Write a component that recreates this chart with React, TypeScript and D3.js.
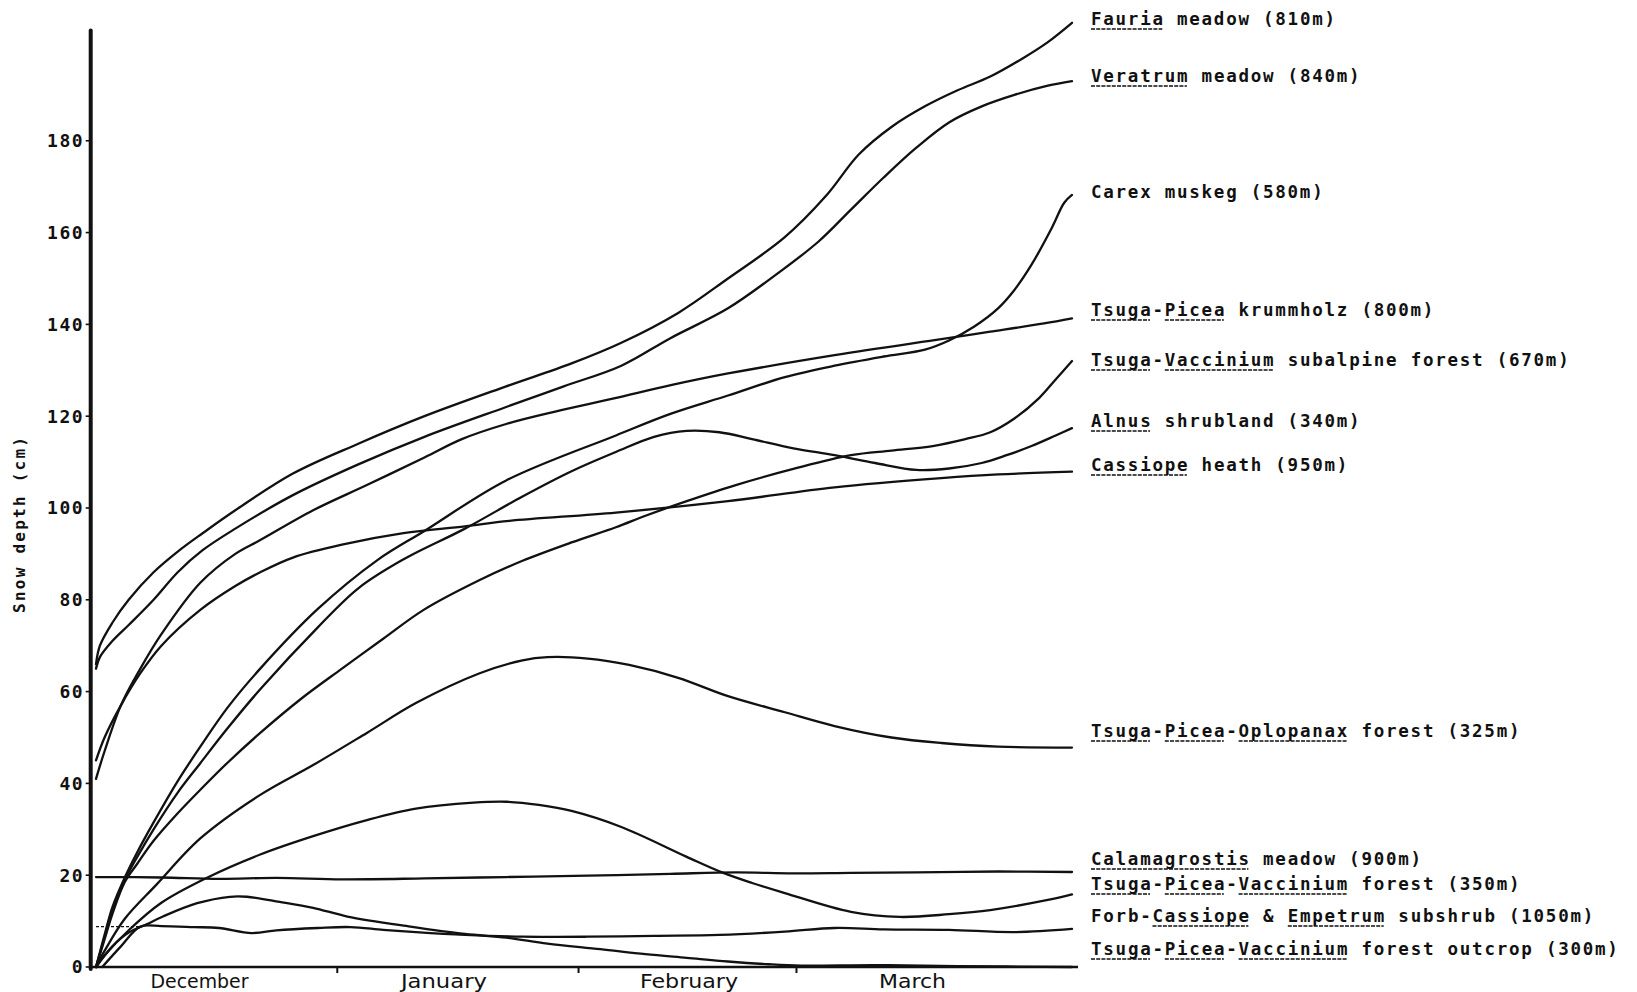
import React, { useEffect, useRef } from "react";
import * as d3 from "d3";

type Pt = [number, number];

// x = days since 1 December, y = snow depth (cm)
const yTicks = [0, 20, 40, 60, 80, 100, 120, 140, 160, 180];
const monthNames = ["December", "January", "February", "March"];
const monthLabelDays = [13.3, 44.7, 76.2, 104.9];
const monthStartDays = [31, 62, 90];

const fauria: Pt[] = [[0,66],[0.5,70],[2.1,75],[4.2,80],[7.4,86],[10.5,90.5],[13.7,94.5],[17.9,99.5],[25.3,107.5],[33.7,114],[42.2,120],[52.7,126.5],[61.1,131.5],[67.5,136],[74.8,142.5],[81.2,150],[88.5,159],[93.8,168],[98,177],[102.2,183],[106.5,187.5],[110.7,191],[114.9,194],[119.1,198],[122.3,201.5],[125.4,205.7]];
const veratrum: Pt[] = [[0,65],[0.5,67.5],[2.1,71],[4.2,74.5],[7.4,80],[10.5,86],[13.7,90.8],[17.9,95.5],[25.3,102.8],[33.7,109.5],[42.2,115.5],[52.7,122],[60.1,126.5],[67.5,131],[73.8,137],[81.2,143.5],[87.5,151],[92.8,158],[97,165],[101.2,172],[105.4,178.5],[109.6,184],[113.8,187.5],[118,190],[122.3,192],[125.4,193]];
const carex: Pt[] = [[0,0],[1.1,7],[2.1,13],[3.7,19.5],[5.3,25],[7.4,31.5],[10.5,40.5],[13.4,48],[16.9,56.5],[21.1,65],[28.5,78],[36.2,88.7],[42.2,95],[52.7,106],[66.8,115.8],[73.8,120.5],[81.2,124.5],[88.5,128.5],[94.9,131],[101.2,133],[106.5,134.5],[109.6,136.5],[112.8,139.5],[115.9,143.5],[118,147.5],[120.2,153],[122.8,161],[124.4,166.5],[125.4,168.2]];
const krummholz: Pt[] = [[0,41],[1.1,47],[3.2,57],[5.7,65],[8.4,72.5],[13.4,83.7],[17.9,90],[21.1,93],[27.9,99.5],[34.8,105],[42.2,111],[47,115],[52.7,118.3],[59,121],[66.4,123.8],[74,126.8],[81.2,129.3],[94.9,133.3],[108.6,136.8],[114.9,138.4],[121.8,140.2],[125.4,141.3]];
const subalpine: Pt[] = [[0,0],[1.1,6],[2.1,11.5],[3.7,18.5],[5.3,22.5],[7.4,27.5],[10.5,33.5],[13.4,38.6],[16.9,44.5],[21.1,51],[26.4,58.5],[31.6,65],[36.9,71.5],[42.1,77.8],[49.3,84.3],[54.8,88.5],[61.1,92.5],[66.8,95.8],[70.6,98.3],[75.9,101.5],[82.2,105],[89.6,108.5],[97,111.5],[102.2,112.5],[107.5,113.5],[111.7,115],[114.9,116.5],[118,119.5],[121.2,124],[123.3,128],[125.4,132]];
const alnus: Pt[] = [[0,0],[1.1,6.5],[2.1,12.5],[3.7,19],[5.3,24],[7.4,30],[10.5,38],[13.4,44.4],[16.9,52],[21.1,60.5],[28.5,74],[33.7,82.5],[39.4,88.7],[47.4,95.5],[54.8,102.5],[61.1,108],[66.8,112.2],[71.7,115.5],[75.9,116.8],[80.1,116.5],[84.3,115],[89.6,113],[94.9,111.5],[100.1,109.8],[105.4,108.3],[109.6,108.6],[113.8,109.8],[117,111.5],[120.2,113.5],[123.3,115.8],[125.4,117.4]];
const cassiope: Pt[] = [[0,45],[1.1,50],[3.2,57],[5.7,64],[8.4,70],[13.4,77.8],[17.9,83],[21.1,86],[25.3,89.2],[31.6,92],[39.5,94.5],[47.4,96],[53.1,97.2],[66.8,99],[81.2,101.5],[94.9,104.5],[108.6,106.5],[115.9,107.3],[125.4,107.9]];
const oplopanax: Pt[] = [[0,0],[1.1,3.5],[3.7,10.5],[7.8,18],[13.4,28],[21.1,37.5],[27.9,44],[34.8,51],[41.1,57.5],[49.3,64],[54.8,66.8],[58,67.5],[63.2,67.2],[68.5,65.8],[74.8,63],[81.2,59],[88.5,55.5],[94.9,52.5],[102.2,50],[108.6,48.8],[115.9,48],[125.4,47.8]];
const calamagrostis: Pt[] = [[0,19.6],[8.4,19.5],[15.8,19.2],[23.2,19.4],[31.6,19.1],[42.2,19.3],[52.7,19.6],[63.2,19.9],[73.8,20.3],[82.2,20.6],[89.6,20.4],[97,20.5],[105.4,20.6],[115.9,20.8],[125.4,20.7]];
const tpvForest: Pt[] = [[0,0],[1.1,2.5],[4.2,8],[8.4,14],[14.2,19.4],[21.1,24.5],[27.9,28.5],[34.8,32],[41.1,34.5],[48.5,35.8],[52.7,36],[56.9,35.3],[61.1,34],[67.5,30.5],[75.9,24],[80.6,20.5],[84.3,18.3],[88.5,16.1],[97,12],[103.3,10.9],[109.6,11.5],[114.9,12.4],[122.3,14.6],[125.4,15.8]];
const forb: Pt[] = [[0.8,0],[3.2,4.5],[5.7,8.8],[8.4,8.9],[12.6,8.7],[15.8,8.5],[20,7.4],[23.2,8],[28.5,8.5],[32.7,8.7],[36.9,8.1],[41.1,7.6],[47.4,7],[54.8,6.6],[63.2,6.6],[71.7,6.8],[80.1,7],[88.5,7.7],[94.9,8.5],[101.2,8.2],[109.6,8.1],[118,7.6],[125.4,8.3]];
const forbDashed: Pt[] = [[0,8.8],[5.7,8.8]];
const outcrop: Pt[] = [[0,0],[2.1,4.5],[4.2,7.5],[6.5,9.3],[8.6,11],[13,13.9],[17.2,15.3],[19.4,15.3],[23.6,14.2],[27.9,12.9],[32.3,11],[40.4,8.8],[47.4,7.2],[52.7,6.4],[58,5.1],[64.8,3.9],[70.6,2.8],[75.9,2],[81.2,1.2],[86.4,0.6],[90.6,0.3],[100.1,0.4],[110.7,0.2],[125.4,0]];

const seriesList: Pt[][] = [fauria, veratrum, carex, krummholz, subalpine, alnus, cassiope, oplopanax, calamagrostis, tpvForest, forb, outcrop];

const labelTexts = [
  "Fauria meadow (810m)",
  "Veratrum meadow (840m)",
  "Carex muskeg (580m)",
  "Tsuga-Picea krummholz (800m)",
  "Tsuga-Vaccinium subalpine forest (670m)",
  "Alnus shrubland (340m)",
  "Cassiope heath (950m)",
  "Tsuga-Picea-Oplopanax forest (325m)",
  "Calamagrostis meadow (900m)",
  "Tsuga-Picea-Vaccinium forest (350m)",
  "Forb-Cassiope & Empetrum subshrub (1050m)",
  "Tsuga-Picea-Vaccinium forest outcrop (300m)",
];
const underlinedWords = [
  ["Fauria"], ["Veratrum"], [], ["Tsuga", "Picea"], ["Tsuga", "Vaccinium"], ["Alnus"], ["Cassiope"],
  ["Tsuga", "Picea", "Oplopanax"], ["Calamagrostis"], ["Tsuga", "Picea", "Vaccinium"], ["Cassiope", "Empetrum"],
  ["Tsuga", "Picea", "Vaccinium"],
];

// layout
const W = 1637, H = 992;
const labelX = 1091;
const labelCenterY = [19, 76, 192, 310, 360, 421, 465, 731, 859, 884, 916, 949];
const CHAR = 12.3;
const MONO = "'DejaVu Sans Mono', 'Liberation Mono', monospace";
const NARROW = "'Liberation Sans Narrow', 'DejaVu Sans Condensed', 'Roboto Condensed', sans-serif";
const monthWidths = [98, 86, 98, 67];
const INK = "#111";

export default function App() {
  const ref = useRef<SVGSVGElement>(null);
  useEffect(() => {
    const svg = d3.select(ref.current!);
    svg.selectAll("*").remove();
    const x = d3.scaleLinear().domain([0, 125.4]).range([96, 1072]);
    const y = d3.scaleLinear().domain([0, 204]).range([967, 30.6]);
    const axisX = 90.7;

    svg.append("rect").attr("width", W).attr("height", H).attr("fill", "#fff");

    // y axis
    svg.append("line").attr("x1", axisX).attr("x2", axisX).attr("y1", y(204)).attr("y2", y(0) + 2)
      .attr("stroke", INK).attr("stroke-width", 4).attr("stroke-linecap", "round");
    // x axis
    svg.append("line").attr("x1", axisX - 1).attr("x2", x(125.4) + 6).attr("y1", y(0)).attr("y2", y(0))
      .attr("stroke", INK).attr("stroke-width", 2.6);
    monthStartDays.forEach((d) => {
      svg.append("line").attr("x1", x(d)).attr("x2", x(d)).attr("y1", y(0)).attr("y2", y(0) + 6)
        .attr("stroke", INK).attr("stroke-width", 2);
    });
    yTicks.forEach((v) => {
      svg.append("line").attr("x1", axisX - 5).attr("x2", axisX).attr("y1", y(v)).attr("y2", y(v))
        .attr("stroke", INK).attr("stroke-width", 1.6);
      const s = String(v);
      svg.append("text").attr("x", 84 - s.length * CHAR).attr("y", y(v)).attr("dy", "0.36em")
        .attr("font-family", MONO).attr("font-weight", "bold").attr("font-size", 18)
        .attr("letter-spacing", 1.5).attr("fill", INK).text(s);
    });
    monthNames.forEach((m, i) => {
      svg.append("text").attr("x", x(monthLabelDays[i])).attr("y", 988).attr("text-anchor", "middle")
        .attr("font-family", NARROW).attr("font-size", 19).attr("fill", INK)
        .attr("textLength", monthWidths[i]).attr("lengthAdjust", "spacingAndGlyphs").text(m);
    });
    // y title
    svg.append("text").attr("transform", "translate(25,525) rotate(-90)").attr("text-anchor", "middle")
      .attr("font-family", MONO).attr("font-weight", "bold").attr("font-size", 16).attr("fill", INK)
      .attr("textLength", 176).attr("lengthAdjust", "spacing").text("Snow depth (cm)");

    const line = d3.line<Pt>().x((d) => x(d[0])).y((d) => y(d[1])).curve(d3.curveCatmullRom.alpha(0.5));
    seriesList.forEach((s) => {
      svg.append("path").attr("d", line(s)!).attr("fill", "none").attr("stroke", INK)
        .attr("stroke-width", 2.3).attr("stroke-linecap", "round").attr("stroke-linejoin", "round");
    });
    svg.append("path").attr("d", d3.line<Pt>().x((d) => x(d[0])).y((d) => y(d[1]))(forbDashed)!)
      .attr("fill", "none").attr("stroke", INK).attr("stroke-width", 1.2).attr("stroke-dasharray", "3,2");

    labelTexts.forEach((t, i) => {
      const base = labelCenterY[i] + 6;
      svg.append("text").attr("x", labelX).attr("y", base).attr("font-family", MONO).attr("font-weight", "bold")
        .attr("font-size", 17.5).attr("fill", INK).attr("textLength", t.length * CHAR - 2)
        .attr("lengthAdjust", "spacing").text(t);
      let from = 0;
      underlinedWords[i].forEach((w) => {
        const idx = t.indexOf(w, from);
        if (idx < 0) return;
        from = idx + w.length;
        svg.append("line").attr("x1", labelX + idx * CHAR).attr("x2", labelX + (idx + w.length) * CHAR - 2.5)
          .attr("y1", base + 4).attr("y2", base + 4).attr("stroke", INK).attr("stroke-width", 1.3)
          .attr("stroke-dasharray", "4,1.2");
      });
    });
  }, []);
  return <svg ref={ref} width={W} height={H} style={{ position: "absolute", left: 0, top: 0 }} />;
}
